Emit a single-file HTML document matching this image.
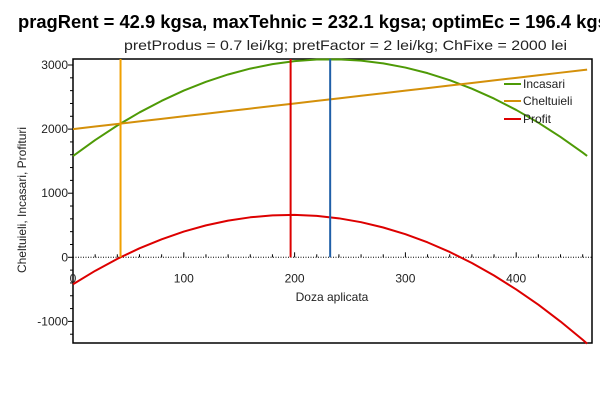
<!DOCTYPE html>
<html><head><meta charset="utf-8"><style>
body{margin:0;background:#fff;width:600px;height:400px;overflow:hidden;font-family:"Liberation Sans",sans-serif}
</style></head><body>
<svg id="chart" width="600" height="400" xmlns="http://www.w3.org/2000/svg" font-family="Liberation Sans, sans-serif">
<text x="18" y="28" font-size="18" font-weight="bold" fill="#000" textLength="600" lengthAdjust="spacingAndGlyphs">pragRent = 42.9 kgsa, maxTehnic = 232.1 kgsa; optimEc = 196.4 kgsa</text>
<text x="124" y="50" font-size="14" fill="#222" textLength="443" lengthAdjust="spacingAndGlyphs">pretProdus = 0.7 lei/kg; pretFactor = 2 lei/kg; ChFixe = 2000 lei</text>
<g id="plot"></g>
<text x="332" y="301" text-anchor="middle" font-size="12" fill="#222">Doza aplicata</text>
<text transform="translate(26,200) rotate(-90)" text-anchor="middle" font-size="12" fill="#222">Cheltuieli, Incasari, Profituri</text>
<g>
<line x1="504" y1="84" x2="521" y2="84" stroke="#4e9a06" stroke-width="2"/>
<text x="523" y="88" font-size="12" fill="#222">Incasari</text>
<line x1="504" y1="101" x2="521" y2="101" stroke="#d4900a" stroke-width="2"/>
<text x="523" y="105" font-size="12" fill="#222">Cheltuieli</text>
<line x1="504" y1="119" x2="521" y2="119" stroke="#dd0000" stroke-width="2"/>
<text x="523" y="123" font-size="12" fill="#222">Profit</text>
</g>
</svg>
<script>
const doses=[0,20,40,60,80,100,120,140,160,180,200,220,240,260,280,300,320,340,360,380,400,420,440,460,464];
const incasari=[1580,1829,2056,2260,2441,2601,2738,2852,2944,3014,3061,3086,3088,3068,3025,2960,2873,2763,2631,2476,2299,2100,1878,1634,1582];
const cheltuieli=[2000,2040,2080,2120,2160,2200,2240,2280,2320,2360,2400,2440,2480,2520,2560,2600,2640,2680,2720,2760,2800,2840,2880,2920,2928];
const profit=[-420,-211,-24,140,281,401,498,572,624,654,661,646,608,548,465,360,233,83,-89,-284,-501,-740,-1002,-1286,-1346];
const markers=[42.9,196.4,232.1];
const xTicks=[0,100,200,300,400];
const yTicks=[-1000,0,1000,2000,3000];
const L=73,R=592,T=59,B=343;
const X=v=>L+v*1.108;
const Y=v=>257.3-v*0.0641;
const NS="http://www.w3.org/2000/svg";
const g=document.getElementById('plot');
function mk(tag,attrs){const e=document.createElementNS(NS,tag);for(const k in attrs)e.setAttribute(k,attrs[k]);g.appendChild(e);return e;}
let f=mk('rect',{x:L,y:T,width:R-L,height:B-T,fill:'none',stroke:'#000','stroke-width':1.5});


let z=mk('line',{x1:L,x2:R,y1:Y(0),y2:Y(0),stroke:'#000','stroke-dasharray':'1,1.5'});


for(let v=-1200;v<=3000;v+=200){const major=v%1000===0;
 const t=mk('line',{x1:L-(major?5:3),x2:L,y1:Y(v),y2:Y(v),stroke:'#000'});
 
 }
yTicks.forEach(v=>{const t=mk('text',{x:L-5,y:Y(v)+4,'text-anchor':'end','font-size':12,fill:'#222'});t.textContent=v;
 
 });
for(let v=0;v<=460;v+=20){const major=v%100===0;
 const t=mk('line',{x1:X(v),x2:X(v),y1:Y(0),y2:Y(0)-(major?5:3),stroke:'#000'});
 
 }
xTicks.forEach(v=>{const t=mk('text',{x:X(v),y:Y(0)+25,'text-anchor':'middle','font-size':12,fill:'#222'});t.textContent=v;
 
 });
function series(vals,color,name){const pts=doses.map((d,i)=>X(d)+','+Y(vals[i])).join(' ');
 const p=mk('polyline',{points:pts,fill:'none',stroke:color,'stroke-width':2,'stroke-linejoin':'round'});
 
 }
series(incasari,'#4e9a06','incasari-line');
series(cheltuieli,'#d4900a','cheltuieli-line');
series(profit,'#dd0000','profit-line');
const mcol=['#f0a000','#dd0000','#1f5fa8'];
const mname=['prag-rent-line','optim-ec-line','max-tehnic-line'];
markers.forEach((m,i)=>{const l=mk('line',{x1:X(m),x2:X(m),y1:T,y2:Y(0),stroke:mcol[i],'stroke-width':2});
 
 });
</script>
</body></html>
